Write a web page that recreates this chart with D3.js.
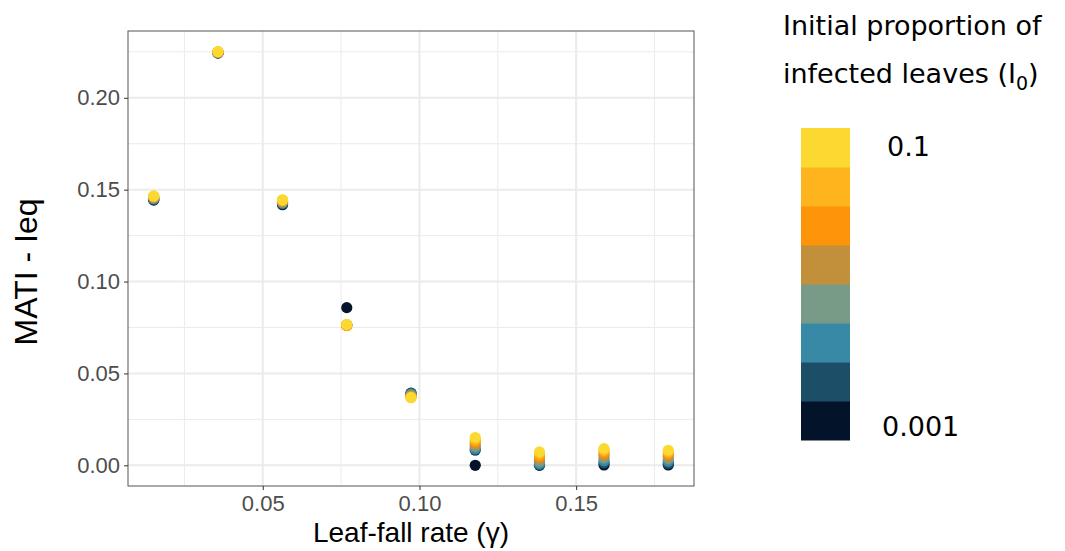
<!DOCTYPE html>
<html>
<head>
<meta charset="utf-8">
<script src="https://cdn.jsdelivr.net/npm/d3@7"></script>
<style>
  body { margin: 0; background: #fff; }
  text { font-family: "Liberation Sans", Arial, sans-serif; }
  .legend text { font-family: "DejaVu Sans", sans-serif; }
</style>
</head>
<body>
<div id="chart"></div>
<script>
// leaf-fall rates (x)
var gammas = [0.0152, 0.0357, 0.0563, 0.0768, 0.0973, 0.1178, 0.1383, 0.1589, 0.1794]
// initial proportion of infected leaves, 8 levels 0.001 .. 0.1
var i0Levels = [0.001, 0.00193, 0.00373, 0.0072, 0.0139, 0.0268, 0.0518, 0.1]
var levelColors = ['#03132a', '#1d4e68', '#3789a6', '#779b86', '#c28f3a', '#fe9409', '#fdb41d', '#fbd930']
// MATI - Ieq, one row per gamma, one value per I0 level
var matiByGamma = [
  [0.1443, 0.1447, 0.1451, 0.1454, 0.1458, 0.1461, 0.1464, 0.1466],
  [0.2243, 0.2245, 0.2246, 0.2247, 0.2248, 0.2249, 0.2250, 0.2251],
  [0.1418, 0.1422, 0.1427, 0.1431, 0.1435, 0.1439, 0.1442, 0.1445],
  [0.0858, 0.0764, 0.0763, 0.0762, 0.0761, 0.0761, 0.0762, 0.0767],
  [0.0391, 0.0393, 0.0388, 0.0382, 0.0377, 0.0373, 0.0370, 0.0368],
  [0.0000, 0.0082, 0.0091, 0.0103, 0.0115, 0.0127, 0.0139, 0.0151],
  [0.0000, 0.0003, 0.0008, 0.0021, 0.0035, 0.0048, 0.0061, 0.0073],
  [0.0002, 0.0012, 0.0025, 0.0040, 0.0055, 0.0068, 0.0080, 0.0091],
  [0.0002, 0.0010, 0.0022, 0.0035, 0.0049, 0.0061, 0.0072, 0.0082]
]
var xTicks = [0.05, 0.10, 0.15]
var yTicks = [0.00, 0.05, 0.10, 0.15, 0.20]
var legendTicks = [0.1, 0.001]

var W = 1065, H = 551
var margin = { top: 31, right: 371, bottom: 65, left: 128 },
    width = W - margin.left - margin.right,
    height = H - margin.top - margin.bottom

var svg = d3.select('#chart').append('svg')
    .attr('width', W).attr('height', H)

var g = svg.append('g')
    .attr('transform', 'translate(' + margin.left + ',' + margin.top + ')')

// ggplot style 5% expansion
var xExt = d3.extent(gammas), xPad = (xExt[1] - xExt[0]) * 0.05
var allY = d3.merge(matiByGamma)
var yExt = d3.extent(allY), yPad = (yExt[1] - yExt[0]) * 0.05

var x = d3.scaleLinear().domain([xExt[0] - xPad, xExt[1] + xPad]).range([0, width])
var y = d3.scaleLinear().domain([yExt[0] - yPad, yExt[1] + yPad]).range([height, 0])

// minor grid
var xMinor = [0.025, 0.075, 0.125, 0.175]
var yMinor = [0.025, 0.075, 0.125, 0.175, 0.225]
g.append('g').selectAll('line').data(xMinor).join('line')
    .attr('x1', d => x(d)).attr('x2', d => x(d)).attr('y1', 0).attr('y2', height)
    .attr('stroke', '#ebebeb').attr('stroke-width', 1)
g.append('g').selectAll('line').data(yMinor).join('line')
    .attr('y1', d => y(d)).attr('y2', d => y(d)).attr('x1', 0).attr('x2', width)
    .attr('stroke', '#ebebeb').attr('stroke-width', 1)
// major grid
g.append('g').selectAll('line').data(xTicks).join('line')
    .attr('x1', d => x(d)).attr('x2', d => x(d)).attr('y1', 0).attr('y2', height)
    .attr('stroke', '#ebebeb').attr('stroke-width', 2)
g.append('g').selectAll('line').data(yTicks).join('line')
    .attr('y1', d => y(d)).attr('y2', d => y(d)).attr('x1', 0).attr('x2', width)
    .attr('stroke', '#ebebeb').attr('stroke-width', 2)

// points, low I0 first so yellow ends on top
var points = []
i0Levels.forEach(function(lv, li) {
  gammas.forEach(function(gm, gi) {
    points.push({ gamma: gm, level: li, value: matiByGamma[gi][li] })
  })
})
g.append('g').selectAll('circle').data(points).join('circle')
    .attr('cx', d => x(d.gamma))
    .attr('cy', d => y(d.value))
    .attr('r', 5.6)
    .attr('fill', d => levelColors[d.level])

// panel border
g.append('rect').attr('width', width).attr('height', height)
    .attr('fill', 'none').attr('stroke', '#555').attr('stroke-width', 1)

// axes
var xAxis = g.append('g').attr('transform', 'translate(0,' + height + ')')
    .call(d3.axisBottom(x).tickValues(xTicks).tickFormat(d3.format('.2f')).tickSize(4).tickPadding(5))
var yAxis = g.append('g')
    .call(d3.axisLeft(y).tickValues(yTicks).tickFormat(d3.format('.2f')).tickSize(4).tickPadding(4))
;[xAxis, yAxis].forEach(function(a) {
  a.select('.domain').remove()
  a.selectAll('.tick line').attr('stroke', '#333')
  a.selectAll('.tick text').attr('fill', '#4d4d4d')
      .style('font-size', '22px').style('font-family', '"Liberation Sans", Arial, sans-serif')
})

svg.append('text')
    .attr('x', margin.left + width / 2).attr('y', 542)
    .attr('text-anchor', 'middle').style('font-size', '28px').attr('fill', '#000')
    .text('Leaf-fall rate (γ)')

svg.append('text')
    .attr('transform', 'translate(37,272) rotate(-90)')
    .attr('text-anchor', 'middle').style('font-size', '32px').attr('fill', '#000')
    .text('MATI - Ieq')

// legend
var legend = svg.append('g').attr('class', 'legend')
legend.append('text').attr('x', 783).attr('y', 35).style('font-size', '27px').text('Initial proportion of')
var t2 = legend.append('text').attr('x', 783).attr('y', 83).style('font-size', '27px')
t2.append('tspan').text('infected leaves (I')
t2.append('tspan').attr('dy', 7).style('font-size', '19px').text('0')
t2.append('tspan').attr('dy', -7).text(')')

var barTop = 128, barBottom = 440
var ly = d3.scaleBand().domain(d3.range(i0Levels.length).reverse()).range([barTop, barBottom])
legend.selectAll('rect').data(d3.range(i0Levels.length)).join('rect')
    .attr('x', 801).attr('width', 49)
    .attr('y', d => ly(d)).attr('height', ly.bandwidth() + 0.5)
    .attr('fill', d => levelColors[d])

var lScale = d3.scaleLog().domain([0.1, 0.001]).range([146, 426])
legend.selectAll('text.lab').data(legendTicks).join('text').attr('class', 'lab')
    .attr('x', d => d === 0.1 ? 887 : 882)
    .attr('y', d => lScale(d) + 9.5)
    .style('font-size', '27px')
    .text(d => String(d))
</script>
</body>
</html>
